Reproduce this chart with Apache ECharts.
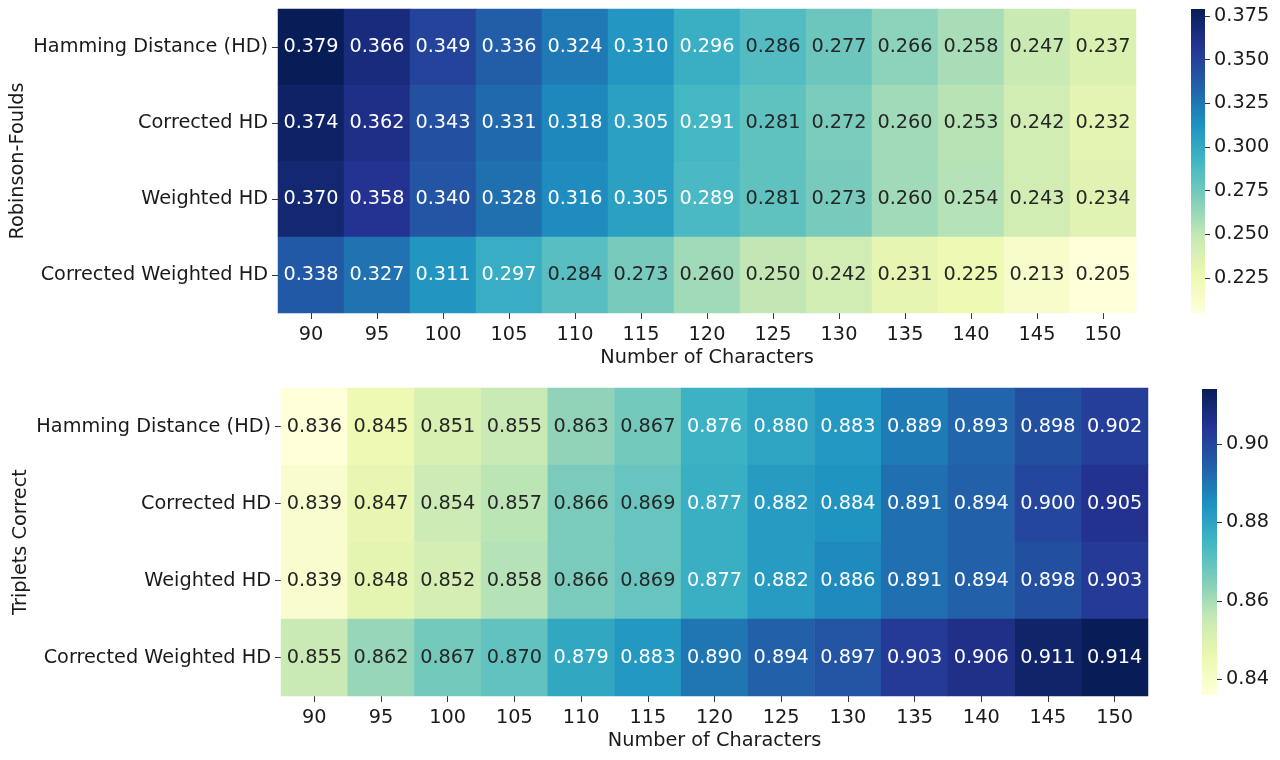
<!DOCTYPE html>
<html>
<head>
<meta charset="utf-8">
<script src="https://cdn.jsdelivr.net/npm/echarts@6/dist/echarts.min.js"></script>
<style>html,body{margin:0;padding:0;background:#fff}#c{width:1280px;height:760px}</style>
</head>
<body>
<div id="c"></div>
<script>
const characters = ['90','95','100','105','110','115','120','125','130','135','140','145','150'];
const methods = ['Hamming Distance (HD)','Corrected HD','Weighted HD','Corrected Weighted HD'];

const rfHD   = [0.379,0.366,0.349,0.336,0.324,0.310,0.296,0.286,0.277,0.266,0.258,0.247,0.237];
const rfCHD  = [0.374,0.362,0.343,0.331,0.318,0.305,0.291,0.281,0.272,0.260,0.253,0.242,0.232];
const rfWHD  = [0.370,0.358,0.340,0.328,0.316,0.305,0.289,0.281,0.273,0.260,0.254,0.243,0.234];
const rfCWHD = [0.338,0.327,0.311,0.297,0.284,0.273,0.260,0.250,0.242,0.231,0.225,0.213,0.205];

const tcHD   = [0.836,0.845,0.851,0.855,0.863,0.867,0.876,0.880,0.883,0.889,0.893,0.898,0.902];
const tcCHD  = [0.839,0.847,0.854,0.857,0.866,0.869,0.877,0.882,0.884,0.891,0.894,0.900,0.905];
const tcWHD  = [0.839,0.848,0.852,0.858,0.866,0.869,0.877,0.882,0.886,0.891,0.894,0.898,0.903];
const tcCWHD = [0.855,0.862,0.867,0.870,0.879,0.883,0.890,0.894,0.897,0.903,0.906,0.911,0.914];

const rfTicks = [0.225,0.250,0.275,0.300,0.325,0.350,0.375];
const tcTicks = [0.84,0.86,0.88,0.90];

const YlGnBu = ['#ffffd9','#edf8b1','#c7e9b4','#7fcdbb','#41b6c4','#1d91c0','#225ea8','#253494','#081d58'];

function hex2rgb(h){return [parseInt(h.slice(1,3),16),parseInt(h.slice(3,5),16),parseInt(h.slice(5,7),16)];}
function cmap(t){
  t = Math.max(0, Math.min(1, t));
  const p = t*(YlGnBu.length-1); const i = Math.min(Math.floor(p), YlGnBu.length-2); const f = p-i;
  const a = hex2rgb(YlGnBu[i]), b = hex2rgb(YlGnBu[i+1]);
  return a.map((v,k)=>v+(b[k]-v)*f);
}
function lum(rgb){
  const c = rgb.map(v=>{v/=255; return v<=0.03928? v/12.92 : Math.pow((v+0.055)/1.055,2.4);});
  return 0.2126*c[0]+0.7152*c[1]+0.0722*c[2];
}

function build(rows){
  const all = rows.flat();
  const mn = Math.min(...all), mx = Math.max(...all);
  const data = [];
  rows.forEach((row,r)=>row.forEach((v,c)=>{
    const col = lum(cmap((v-mn)/(mx-mn))) > 0.408 ? '#262626' : '#ffffff';
    data.push({value:[c,r,v], label:{color:col}});
  }));
  return {data, mn, mx};
}
const rf = build([rfHD,rfCHD,rfWHD,rfCWHD]);
const tc = build([tcHD,tcCHD,tcWHD,tcCWHD]);

const FONT = 'DejaVu Sans';
const TXT = '#1a1a1a';
const FS = 19.3;

function heatX(gi, name){
  return {type:'category', gridIndex:gi, data:characters,
    axisLine:{show:false}, splitLine:{show:false}, splitArea:{show:false},
    axisTick:{show:true, alignWithLabel:true, length:6, lineStyle:{color:'#333'}},
    axisLabel:{fontSize:FS, fontFamily:FONT, color:TXT, margin:12},
    name:name, nameLocation:'middle', nameGap:35, nameMoveOverlap:false,
    nameTextStyle:{fontSize:FS, fontFamily:FONT, color:TXT}};
}
function heatY(gi, name){
  return {type:'category', gridIndex:gi, data:methods, inverse:true,
    axisLine:{show:false}, splitLine:{show:false}, splitArea:{show:false},
    axisTick:{show:true, alignWithLabel:true, length:6, lineStyle:{color:'#333'}},
    axisLabel:{fontSize:FS, fontFamily:FONT, color:TXT, margin:10},
    name:name, nameLocation:'middle', nameGap:251, nameRotate:90, nameMoveOverlap:false,
    nameTextStyle:{fontSize:FS, fontFamily:FONT, color:TXT}};
}
function cbY(gi, mn, mx, ticks, dec){
  return {type:'value', gridIndex:gi, position:'right', min:mn, max:mx,
    axisLine:{show:false}, splitLine:{show:false},
    axisTick:{show:true, length:5, customValues:ticks, lineStyle:{color:'#333'}},
    axisLabel:{fontSize:FS, fontFamily:FONT, color:TXT, margin:9, customValues:ticks,
      formatter:v=>Number(v).toFixed(dec)}};
}
function cbX(gi){ return {type:'category', gridIndex:gi, data:['cb'], show:false}; }

function cbSeries(idx, mn, mx){
  return {type:'custom', xAxisIndex:idx, yAxisIndex:idx, data:[[0,mn,mx]],
    encode:{x:0, y:[1,2]}, silent:true, clip:false,
    renderItem:(params, api)=>{
      const top = api.coord([0, api.value(2)]);
      const bot = api.coord([0, api.value(1)]);
      const cs = params.coordSys;
      const stops = YlGnBu.slice().reverse().map((c,i)=>({offset:i/(YlGnBu.length-1), color:c}));
      return {type:'rect', shape:{x:cs.x, y:top[1], width:cs.width, height:bot[1]-top[1]},
        style:{fill:new echarts.graphic.LinearGradient(0,0,0,1,stops)}};
    }};
}

function heatSeries(idx, d){
  return {type:'heatmap', xAxisIndex:idx, yAxisIndex:idx, data:d.data,
    label:{show:true, fontSize:FS, fontFamily:FONT, formatter:p=>p.value[2].toFixed(3)},
    itemStyle:{borderWidth:0}, emphasis:{disabled:true}};
}

const G = {containLabel:false, outerBoundsMode:'none'};
const chart = echarts.init(document.getElementById('c'));
chart.setOption({
  backgroundColor:'#ffffff',
  animation:false,
  grid:[
    Object.assign({left:278, top:9, width:858, height:304}, G),
    Object.assign({left:281, top:388, width:867, height:308}, G),
    Object.assign({left:1191, top:9, width:14, height:304}, G),
    Object.assign({left:1202, top:389, width:15, height:306}, G)
  ],
  xAxis:[heatX(0,'Number of Characters'), heatX(1,'Number of Characters'), cbX(2), cbX(3)],
  yAxis:[heatY(0,'Robinson-Foulds'), heatY(1,'Triplets Correct'),
         cbY(2, rf.mn, rf.mx, rfTicks, 3), cbY(3, tc.mn, tc.mx, tcTicks, 2)],
  visualMap:[
    {type:'continuous', show:false, seriesIndex:0, min:rf.mn, max:rf.mx, dimension:2, inRange:{color:YlGnBu}},
    {type:'continuous', show:false, seriesIndex:1, min:tc.mn, max:tc.mx, dimension:2, inRange:{color:YlGnBu}}
  ],
  series:[heatSeries(0, rf), heatSeries(1, tc), cbSeries(2, rf.mn, rf.mx), cbSeries(3, tc.mn, tc.mx)]
});
</script>
</body>
</html>
